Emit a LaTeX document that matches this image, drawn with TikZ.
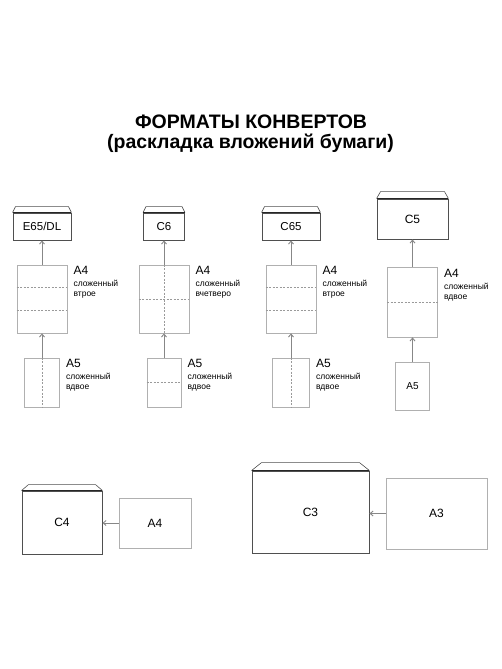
\documentclass[tikz,border=0pt]{standalone}
\usepackage{fontspec}
\setmainfont{Liberation Sans}
\usepackage{xcolor}
\usetikzlibrary{positioning,calc,arrows.meta}

\definecolor{envline}{HTML}{4F4F4F}
\definecolor{sheetline}{HTML}{B0B0B0}
\definecolor{foldline}{HTML}{9A9A9A}
\definecolor{arrline}{HTML}{878787}

% flap of an envelope: node, inset, height
\newcommand{\envflap}[3]{
    \draw[envline, line width=0.6pt] (#1.north west) -- ++(#2,-#3) -- ($(#1.north east)+(-#2,-#3)$) -- (#1.north east);
    \draw[black!85, line width=1.3pt] (#1.north west) -- (#1.north east);
}

\begin{document}
\begin{tikzpicture}[
    x=1pt, y=-1pt,
    envelope/.style={draw=envline, line width=0.9pt, rectangle, inner sep=0pt, font=\fontsize{11.5}{11.5}\selectfont},
    sheet/.style={draw=sheetline, line width=0.7pt, rectangle, inner sep=0pt, font=\fontsize{12}{12}\selectfont},
    fold/.style={draw=foldline, dash pattern=on 2pt off 1.5pt, line width=0.5pt},
    arr/.style={draw=arrline, line width=0.9pt, -{Straight Barb[length=3pt,width=5pt]}},
    size/.style={font=\fontsize{12}{12}\selectfont, inner sep=0pt},
    note/.style={font=\fontsize{8.5}{10}\selectfont, inner sep=0pt, align=left},
    node distance=6pt
]
    \useasboundingbox (0,0) rectangle (502,669);

    % title
    \node[font=\bfseries\fontsize{19.5}{19.5}\selectfont, inner sep=0pt] (title) at (251,122) {ФОРМАТЫ КОНВЕРТОВ};
    \node[font=\bfseries\fontsize{19.5}{19.5}\selectfont, inner sep=0pt] (subtitle) at (250.5,143.5) {(раскладка вложений бумаги)};

    % E65/DL
    \node[envelope, minimum width=58pt, minimum height=27pt] (dl) at (42,226.5) {E65/DL};
    \node[sheet, minimum width=50pt, minimum height=68pt] (dlA4) at (42,299) {};
    \node[sheet, minimum width=35pt, minimum height=49pt] (dlA5) at (42,382.5) {};
    \envflap{dl}{3}{6}
    \draw[fold] ($(dlA4.north west)!1/3!(dlA4.south west)$) -- ($(dlA4.north east)!1/3!(dlA4.south east)$);
    \draw[fold] ($(dlA4.north west)!2/3!(dlA4.south west)$) -- ($(dlA4.north east)!2/3!(dlA4.south east)$);
    \draw[fold] (dlA5.north) -- (dlA5.south);
    \draw[arr] (dlA5.north) -- (dlA4.south);
    \draw[arr] (dlA4.north) -- (dl.south);
    \node[size, right=of dlA4.north east, anchor=north west, yshift=-1pt] (dlA4t) {A4};
    \node[note, below=5.5pt of dlA4t.south west, anchor=north west] (dlA4n) {сложенный\\втрое};
    \node[size, right=of dlA5.north east, anchor=north west, yshift=-1pt] (dlA5t) {A5};
    \node[note, below=5.5pt of dlA5t.south west, anchor=north west] (dlA5n) {сложенный\\вдвое};

    % C6
    \node[envelope, minimum width=41pt, minimum height=27pt] (c6) at (164,226.5) {C6};
    \node[sheet, minimum width=50pt, minimum height=68pt] (c6A4) at (164,299) {};
    \node[sheet, minimum width=34pt, minimum height=49pt] (c6A5) at (164,382.5) {};
    \envflap{c6}{3}{6}
    \draw[fold] (c6A4.west) -- (c6A4.east);
    \draw[fold] (c6A4.north) -- (c6A4.south);
    \draw[fold] (c6A5.west) -- (c6A5.east);
    \draw[arr] (c6A5.north) -- (c6A4.south);
    \draw[arr] (c6A4.north) -- (c6.south);
    \node[size, right=of c6A4.north east, anchor=north west, yshift=-1pt] (c6A4t) {A4};
    \node[note, below=5.5pt of c6A4t.south west, anchor=north west] (c6A4n) {сложенный\\вчетверо};
    \node[size, right=of c6A5.north east, anchor=north west, yshift=-1pt] (c6A5t) {A5};
    \node[note, below=5.5pt of c6A5t.south west, anchor=north west] (c6A5n) {сложенный\\вдвое};

    % C65
    \node[envelope, minimum width=58pt, minimum height=27pt] (c65) at (291,226.5) {C65};
    \node[sheet, minimum width=50pt, minimum height=68pt] (c65A4) at (291,299) {};
    \node[sheet, minimum width=37pt, minimum height=49pt] (c65A5) at (291,382.5) {};
    \envflap{c65}{3}{6}
    \draw[fold] ($(c65A4.north west)!1/3!(c65A4.south west)$) -- ($(c65A4.north east)!1/3!(c65A4.south east)$);
    \draw[fold] ($(c65A4.north west)!2/3!(c65A4.south west)$) -- ($(c65A4.north east)!2/3!(c65A4.south east)$);
    \draw[fold] (c65A5.north) -- (c65A5.south);
    \draw[arr] (c65A5.north) -- (c65A4.south);
    \draw[arr] (c65A4.north) -- (c65.south);
    \node[size, right=of c65A4.north east, anchor=north west, yshift=-1pt] (c65A4t) {A4};
    \node[note, below=5.5pt of c65A4t.south west, anchor=north west] (c65A4n) {сложенный\\втрое};
    \node[size, right=of c65A5.north east, anchor=north west, yshift=-1pt] (c65A5t) {A5};
    \node[note, below=5.5pt of c65A5t.south west, anchor=north west] (c65A5n) {сложенный\\вдвое};

    % C5
    \node[envelope, minimum width=71pt, minimum height=40pt, font=\fontsize{12}{12}\selectfont] (c5) at (412.5,219) {C5};
    \node[sheet, minimum width=50pt, minimum height=70pt] (c5A4) at (412.5,302) {};
    \node[sheet, minimum width=34pt, minimum height=48pt, font=\fontsize{10}{10}\selectfont] (c5A5) at (412.5,386) {A5};
    \envflap{c5}{4}{7}
    \draw[fold] (c5A4.west) -- (c5A4.east);
    \draw[arr] (c5A5.north) -- (c5A4.south);
    \draw[arr] (c5A4.north) -- (c5.south);
    \node[size, right=of c5A4.north east, anchor=north west, yshift=-2pt] (c5A4t) {A4};
    \node[note, below=5.5pt of c5A4t.south west, anchor=north west] (c5A4n) {сложенный\\вдвое};

    % C4 and C3
    \node[envelope, minimum width=80pt, minimum height=63pt, font=\fontsize{12}{12}\selectfont] (c4) at (62,522.5) {C4};
    \node[sheet, minimum width=72pt, minimum height=50pt] (c4A4) at (155,523) {A4};
    \envflap{c4}{7}{6}
    \draw[arr] (c4A4.west) -- (c4A4.west -| c4.east);

    \node[envelope, minimum width=117pt, minimum height=82pt, font=\fontsize{12}{12}\selectfont] (c3) at (310.5,512) {C3};
    \node[sheet, minimum width=101pt, minimum height=71pt] (c3A3) at (436.5,513.5) {A3};
    \envflap{c3}{10}{8}
    \draw[arr] (c3A3.west) -- (c3A3.west -| c3.east);
\end{tikzpicture}
\end{document}
